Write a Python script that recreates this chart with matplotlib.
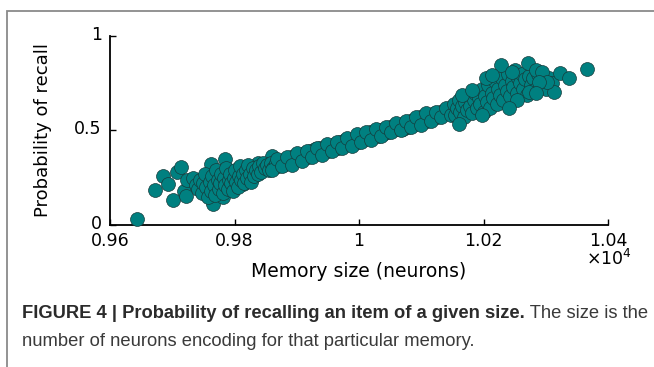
import matplotlib
matplotlib.use("Agg")
import matplotlib.pyplot as plt
import matplotlib.transforms as mtransforms
from matplotlib import font_manager
from matplotlib.patches import Rectangle

# memory size (neurons) and probability of recall
memory_size = [
    # left tail
    9643, 9672, 9685, 9693, 9707, 9714, 9701, 9719, 9723, 9733, 9722, 9763,
    9784, 9765, 9781, 9813, 9837, 9860,
    9738, 9742, 9745, 9748, 9750, 9753, 9755, 9757, 9760, 9762, 9764, 9767,
    9769, 9771, 9773, 9775, 9777, 9779, 9781, 9783, 9785, 9787, 9789, 9791,
    9793, 9795, 9797, 9799, 9801, 9803, 9805, 9807, 9809, 9811, 9813, 9815,
    9818, 9820, 9822, 9825, 9827, 9830, 9832, 9835, 9838, 9840, 9843, 9846,
    9849, 9852, 9855,
    # middle band
    9858, 9862, 9866, 9870, 9874, 9878, 9882, 9886, 9890, 9894, 9898, 9902,
    9906, 9910, 9914, 9918, 9922, 9926, 9930, 9934, 9938, 9942, 9946, 9950,
    9954, 9958, 9962, 9966, 9970, 9974, 9978, 9982, 9986, 9990, 9994, 9998,
    10002, 10006, 10010, 10014, 10018, 10022, 10026, 10030, 10034, 10038,
    10042, 10046, 10050, 10054, 10058, 10062, 10066, 10070, 10074, 10078,
    10082, 10086, 10090, 10094, 10098, 10102, 10106, 10110, 10114, 10118,
    10122, 10126, 10130, 10134, 10138, 10142, 10146, 10150,
    9860, 9868, 9876, 9884, 9892, 9900, 9908, 9916, 9924, 9932, 9940, 9948,
    9956, 9964, 9972, 9980, 9988, 9996, 10004, 10012, 10020, 10028, 10036,
    10044, 10052, 10060, 10068, 10076, 10084, 10092, 10100, 10108, 10116,
    10124, 10132, 10140, 10148,
    # right tail
    10152, 10155, 10158, 10160, 10163, 10166, 10168, 10171, 10174, 10176,
    10179, 10182, 10184, 10187, 10190, 10192, 10195, 10198, 10200, 10203,
    10206, 10208, 10211, 10214, 10216, 10219, 10222, 10224, 10227, 10230,
    10232, 10235, 10238, 10240, 10243, 10246, 10248, 10251, 10254, 10256,
    10259, 10262, 10264, 10267, 10270, 10273, 10276, 10280, 10284, 10288,
    10292, 10296, 10300, 10305, 10310,
    10228, 10271, 10366, 10323, 10337, 10313, 10204, 10214, 10246, 10284,
    10294, 10302, 10289, 10273, 10284, 10254, 10241, 10198, 10161, 10166,
    10182,
]
recall_prob = [
    0.032, 0.186, 0.261, 0.218, 0.282, 0.309, 0.133, 0.181, 0.239, 0.250,
    0.154, 0.324, 0.351, 0.112, 0.149, 0.218, 0.330, 0.367,
    0.21, 0.19, 0.24, 0.17, 0.22, 0.27, 0.20, 0.15, 0.23, 0.18, 0.26, 0.21,
    0.16, 0.29, 0.24, 0.19, 0.22, 0.27, 0.17, 0.25, 0.21, 0.30, 0.19, 0.24,
    0.27, 0.22, 0.18, 0.25, 0.29, 0.23, 0.20, 0.26, 0.31, 0.24, 0.27, 0.22,
    0.29, 0.25, 0.32, 0.27, 0.23, 0.30, 0.26, 0.29, 0.27, 0.31, 0.28, 0.33,
    0.30, 0.32, 0.29,
    0.33, 0.30, 0.33, 0.31, 0.34, 0.32, 0.35, 0.33, 0.36, 0.34, 0.37, 0.35,
    0.37, 0.35, 0.38, 0.36, 0.39, 0.37, 0.40, 0.38, 0.41, 0.39, 0.41, 0.39,
    0.42, 0.40, 0.43, 0.41, 0.44, 0.42, 0.45, 0.43, 0.45, 0.43, 0.46, 0.44,
    0.47, 0.45, 0.48, 0.46, 0.49, 0.47, 0.49, 0.47, 0.50, 0.48,
    0.51, 0.49, 0.52, 0.50, 0.53, 0.51, 0.53, 0.51, 0.54, 0.52,
    0.55, 0.53, 0.56, 0.54, 0.57, 0.55, 0.57, 0.55, 0.58, 0.56,
    0.59, 0.57, 0.60, 0.58, 0.61, 0.59, 0.62, 0.60,
    0.29, 0.35, 0.31, 0.36, 0.32, 0.38, 0.34, 0.39, 0.36, 0.41, 0.37, 0.43,
    0.39, 0.44, 0.41, 0.46, 0.42, 0.48, 0.44, 0.49, 0.45, 0.51, 0.47,
    0.52, 0.49, 0.54, 0.50, 0.55, 0.52, 0.57, 0.53, 0.59, 0.55,
    0.60, 0.57, 0.62, 0.58,
    0.64, 0.58, 0.62, 0.66, 0.60, 0.63, 0.57, 0.65, 0.61, 0.68,
    0.63, 0.59, 0.66, 0.70, 0.62, 0.67, 0.64, 0.72, 0.60, 0.68,
    0.65, 0.74, 0.62, 0.70, 0.67, 0.76, 0.64, 0.72, 0.69, 0.78,
    0.66, 0.74, 0.71, 0.80, 0.68, 0.76, 0.73, 0.82, 0.70, 0.78,
    0.75, 0.80, 0.72, 0.77, 0.69, 0.79, 0.74, 0.78, 0.72, 0.80,
    0.76, 0.79, 0.72, 0.78, 0.75,
    0.846, 0.856, 0.824, 0.803, 0.777, 0.702, 0.777, 0.793, 0.809, 0.819,
    0.809, 0.755, 0.755, 0.702, 0.697, 0.660, 0.617, 0.580, 0.537, 0.686,
    0.713,
]

x_ticks = [9600, 9800, 10000, 10200, 10400]
x_tick_labels = ["0.96", "0.98", "1", "1.02", "1.04"]
y_ticks = [0, 0.5, 1]
y_tick_labels = ["0", "0.5", "1"]

caption_bold = "FIGURE 4 | Probability of recalling an item of a given size."
caption_rest = " The size is the"
caption_line2 = "number of neurons encoding for that particular memory."

W, H = 654, 367
fig = plt.figure(figsize=(W / 100, H / 100), dpi=100)
fig.patch.set_facecolor("white")

# grey frame around the figure panel (runs off the right/bottom edge)
fig.patches.append(Rectangle((7 / W, -0.1), 1.2, 1 - 11 / H + 0.1,
                             transform=fig.transFigure, fill=False,
                             edgecolor="#8a8a8a", linewidth=1.3))

ax = fig.add_axes([110 / W, 1 - 225 / H, 498 / W, 189 / H])
ax.scatter(memory_size, recall_prob, s=100, facecolor="#008080",
           edgecolor="#163c3c", linewidth=0.5, clip_on=False, zorder=3)

ax.set_xlim(9600, 10400)
ax.set_ylim(0, 1)
ax.set_xticks(x_ticks)
ax.set_xticklabels(x_tick_labels)
ax.set_yticks(y_ticks)
ax.set_yticklabels(y_tick_labels)
ax.spines["top"].set_visible(False)
ax.spines["right"].set_visible(False)
for sp in ("left", "bottom"):
    ax.spines[sp].set_linewidth(1.3)
ax.tick_params(direction="in", length=4, width=1, labelsize=12.5)
ax.tick_params(axis="x", pad=5)
ax.tick_params(axis="y", pad=6)
# y tick labels sit a little above their ticks, as in the original
up = mtransforms.ScaledTranslation(0, 3 / 100, fig.dpi_scale_trans)
for lab in ax.get_yticklabels():
    lab.set_transform(lab.get_transform() + up)
ax.set_xlabel("Memory size (neurons)", fontsize=13.5, labelpad=9)
ax.set_ylabel("Probability of recall", fontsize=13, labelpad=16)
fig.text(632 / W, 1 - 259 / H, r"$\times10^{4}$", fontsize=12.5,
         ha="right", va="center")

# caption in a condensed sans font
names = {f.name for f in font_manager.fontManager.ttflist}
cap_font = "Liberation Sans Narrow" if "Liberation Sans Narrow" in names else "Liberation Sans"
cap_color = "#2b2b2b"
x0, y1, y2 = 22 / W, 1 - 313 / H, 1 - 342 / H
target_w = 626

renderer = fig.canvas.get_renderer()
size = 13
t1 = fig.text(x0, y1, caption_bold, fontsize=size, fontweight="bold",
              family=cap_font, color=cap_color, va="center")
t2 = fig.text(0, y1, caption_rest, fontsize=size, family=cap_font,
              color="#3a3a3a", va="center")
w = t1.get_window_extent(renderer).width + t2.get_window_extent(renderer).width
size = size * target_w / w
t1.set_fontsize(size)
t2.set_fontsize(size)
bb = t1.get_window_extent(renderer)
t2.set_x(bb.x1 / W)
fig.text(x0, y2, caption_line2, fontsize=size, family=cap_font,
         color="#3a3a3a", va="center")

fig.savefig("out.png", dpi=100)
